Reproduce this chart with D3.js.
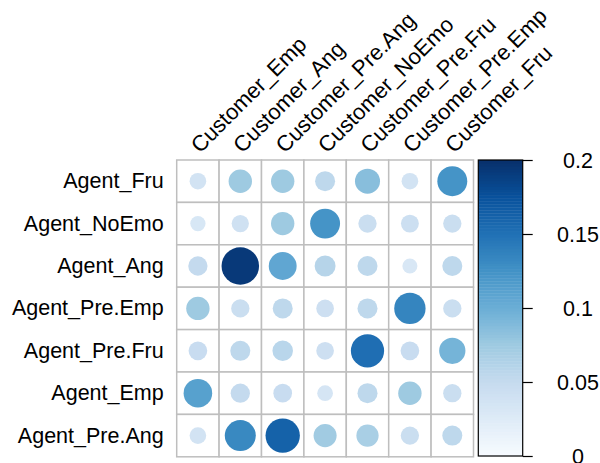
<!DOCTYPE html>
<html>
<head>
<meta charset="utf-8">
<script src="https://cdn.jsdelivr.net/npm/d3@7"></script>
<style>
  html, body { margin: 0; padding: 0; background: #fff; }
  svg { display: block; font-family: "Liberation Sans", Arial, Helvetica, sans-serif; }
</style>
</head>
<body>
<svg id="chart" width="600" height="463"></svg>
<script>
// Row and column labels of the matrix
const rowLabels = ["Agent_Fru", "Agent_NoEmo", "Agent_Ang", "Agent_Pre.Emp",
                   "Agent_Pre.Fru", "Agent_Emp", "Agent_Pre.Ang"];
const colLabels = ["Customer_Emp", "Customer_Ang", "Customer_Pre.Ang", "Customer_NoEmo",
                   "Customer_Pre.Fru", "Customer_Pre.Emp", "Customer_Fru"];

// One array of values per agent row, in column order
const agentFru    = [0.038, 0.075, 0.075, 0.055, 0.086, 0.038, 0.123];
const agentNoEmo  = [0.032, 0.041, 0.075, 0.123, 0.046, 0.044, 0.046];
const agentAng    = [0.051, 0.193, 0.107, 0.060, 0.055, 0.031, 0.055];
const agentPreEmp = [0.075, 0.046, 0.055, 0.043, 0.055, 0.135, 0.046];
const agentPreFru = [0.048, 0.055, 0.058, 0.043, 0.152, 0.048, 0.095];
const agentEmp    = [0.112, 0.051, 0.048, 0.034, 0.055, 0.075, 0.046];
const agentPreAng = [0.038, 0.132, 0.162, 0.073, 0.068, 0.046, 0.055];
const values = [agentFru, agentNoEmo, agentAng, agentPreEmp, agentPreFru, agentEmp, agentPreAng];

// Colour legend range and tick labels
const legendLimits = [0, 0.2];
const legendTicks = [0, 0.05, 0.1, 0.15, 0.2];
const legendTickLabels = ["0", "0.05", "0.1", "0.15", "0.2"];

// Blues palette stops
const blues9 = ["#F7FBFF", "#DEEBF7", "#C6DBEF", "#9ECAE1", "#6BAED6",
                "#4292C6", "#2171B5", "#08519C", "#08306B"];

const svg = d3.select("#chart");

const gridLeft = 176.7, gridTop = 160, cell = 42.4;
const n = colLabels.length;

const x = d3.scaleBand().domain(colLabels).range([gridLeft, gridLeft + cell * n]).padding(0);
const y = d3.scaleBand().domain(rowLabels).range([gridTop, gridTop + cell * rowLabels.length]).padding(0);

const color = d3.scaleLinear()
  .domain(d3.range(blues9.length).map(i => legendLimits[0] + i * (legendLimits[1] - legendLimits[0]) / (blues9.length - 1)))
  .range(blues9)
  .interpolate(d3.interpolateRgb)
  .clamp(true);

const radius = d3.scaleSqrt().domain(legendLimits).range([0, 0.45 * cell]);

// Cells with grid lines
const cells = [];
values.forEach((row, i) => row.forEach((v, j) => cells.push({ r: rowLabels[i], c: colLabels[j], v })));

svg.append("g").selectAll("rect")
  .data(cells)
  .join("rect")
  .attr("x", d => x(d.c))
  .attr("y", d => y(d.r))
  .attr("width", x.bandwidth())
  .attr("height", y.bandwidth())
  .attr("fill", "#fff")
  .attr("stroke", "#bebebe")
  .attr("stroke-width", 1.5);

// Circles: area proportional to value
svg.append("g").selectAll("circle")
  .data(cells)
  .join("circle")
  .attr("cx", d => x(d.c) + x.bandwidth() / 2)
  .attr("cy", d => y(d.r) + y.bandwidth() / 2)
  .attr("r", d => radius(d.v))
  .attr("fill", d => color(d.v));

// Row labels
svg.append("g").selectAll("text")
  .data(rowLabels)
  .join("text")
  .attr("x", gridLeft - 13)
  .attr("y", d => y(d) + y.bandwidth() / 2)
  .attr("text-anchor", "end")
  .attr("dominant-baseline", "central")
  .attr("font-size", 21.5)
  .attr("fill", "#000")
  .text(d => d);

// Column labels, rotated 45 degrees
svg.append("g").selectAll("text")
  .data(colLabels)
  .join("text")
  .attr("transform", d => `translate(${x(d) + x.bandwidth() / 2 + 2},${gridTop - 6}) rotate(-45)`)
  .attr("text-anchor", "start")
  .attr("font-size", 22)
  .attr("fill", "#000")
  .text(d => d);

// Colour legend
const barLeft = 478.3, barWidth = 44.4, barTop = 160, barBottom = 456;
const ly = d3.scaleLinear().domain(legendLimits).range([barBottom, barTop]);
const nBands = 100;
const bandVals = d3.range(nBands).map(i => legendLimits[0] + (i + 0.5) * (legendLimits[1] - legendLimits[0]) / nBands);
const bandH = (barBottom - barTop) / nBands;

const legend = svg.append("g");
legend.selectAll("rect.band")
  .data(bandVals)
  .join("rect")
  .attr("class", "band")
  .attr("x", barLeft)
  .attr("y", d => ly(d) - bandH / 2)
  .attr("width", barWidth)
  .attr("height", bandH + 0.4)
  .attr("fill", d => color(d));

legend.append("rect")
  .attr("x", barLeft)
  .attr("y", barTop)
  .attr("width", barWidth)
  .attr("height", barBottom - barTop)
  .attr("fill", "none")
  .attr("stroke", "#000")
  .attr("stroke-width", 1.2);

const axis = d3.axisRight(ly)
  .tickValues(legendTicks)
  .tickFormat((d, i) => legendTickLabels[i])
  .tickSize(10)
  .tickPadding(0);

const axisG = legend.append("g")
  .attr("transform", `translate(${barLeft + barWidth},0)`)
  .call(axis);
axisG.select(".domain").remove();
axisG.selectAll("line").attr("stroke", "#000").attr("stroke-width", 1.2);
axisG.selectAll("text")
  .attr("x", 578 - (barLeft + barWidth))
  .attr("dy", null)
  .attr("dominant-baseline", "central")
  .attr("text-anchor", "middle")
  .attr("font-size", 21.5)
  .attr("font-family", "\"Liberation Sans\", Arial, Helvetica, sans-serif")
  .attr("fill", "#000");
</script>
</body>
</html>
